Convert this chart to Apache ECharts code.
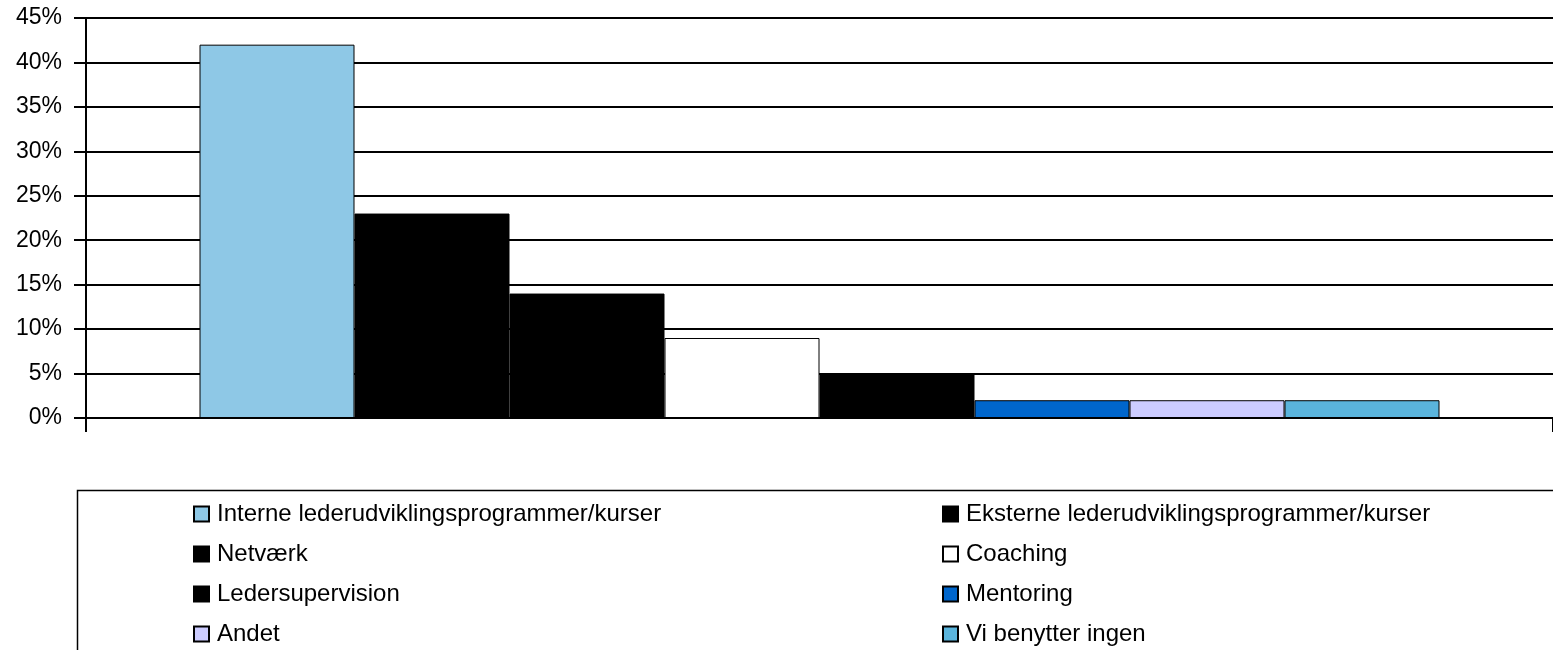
<!DOCTYPE html>
<html>
<head>
<meta charset="utf-8">
<script src="https://cdn.jsdelivr.net/npm/echarts@6/dist/echarts.min.js"></script>
<style>
  html, body { margin: 0; padding: 0; background: #ffffff; }
  #chart { width: 1553px; height: 650px; }
</style>
</head>
<body>
<div id="chart"></div>
<script>
// data (percent)
const categories = [""];
const seriesNames = [
  "Interne lederudviklingsprogrammer/kurser",
  "Eksterne lederudviklingsprogrammer/kurser",
  "Netværk",
  "Coaching",
  "Ledersupervision",
  "Mentoring",
  "Andet",
  "Vi benytter ingen"
];
const seriesValues = [42, 23, 14, 9, 5, 2, 2, 2];
const seriesColors = ["#8ec8e6", "#000000", "#000000", "#ffffff", "#000000", "#0066cc", "#ccccff", "#5ab4dc"];
const legendLeft = ["Interne lederudviklingsprogrammer/kurser", "Netværk", "Ledersupervision", "Andet"];
const legendRight = ["Eksterne lederudviklingsprogrammer/kurser", "Coaching", "Mentoring", "Vi benytter ingen"];

const font = "Liberation Sans, Arial, sans-serif";
const chart = echarts.init(document.getElementById("chart"));

const series = seriesNames.map(function (name, i) {
  return {
    name: name,
    type: "bar",
    data: [seriesValues[i]],
    barWidth: 155,
    barGap: "0%",
    itemStyle: { color: seriesColors[i], borderColor: "#000", borderWidth: 1 }
  };
});

function legendBlock(left, names) {
  return {
    orient: "vertical",
    left: left,
    top: 497,
    height: 200,
    data: names,
    icon: "rect",
    itemWidth: 15,
    itemHeight: 15,
    itemGap: 16,
    selectedMode: false,
    textStyle: { fontFamily: font, fontSize: 24, color: "#000", padding: [0, 0, 0, 3] }
  };
}

chart.setOption({
  animation: false,
  grid: { left: 86, right: 0, top: 18, bottom: 232 },
  legend: [legendBlock(188, legendLeft), legendBlock(937, legendRight)],
  graphic: [{
    type: "rect",
    left: 75,
    top: 488,
    shape: { width: 1500, height: 200 },
    style: { fill: "none", stroke: "#000", lineWidth: 1.5 }
  }],
  xAxis: {
    type: "category",
    data: categories,
    axisLine: { lineStyle: { color: "#000", width: 2 } },
    axisTick: { show: true, length: 14, lineStyle: { color: "#000", width: 2 } },
    axisLabel: { show: false }
  },
  yAxis: {
    type: "value",
    min: 0,
    max: 45,
    interval: 5,
    axisLine: { show: true, lineStyle: { color: "#000", width: 2 } },
    axisTick: { show: true, length: 12, lineStyle: { color: "#000", width: 2 } },
    axisLabel: { formatter: "{value}%", fontFamily: font, fontSize: 23, color: "#000", margin: 24 },
    splitLine: { lineStyle: { color: "#000", width: 2 } }
  },
  series: series
});
</script>
</body>
</html>
